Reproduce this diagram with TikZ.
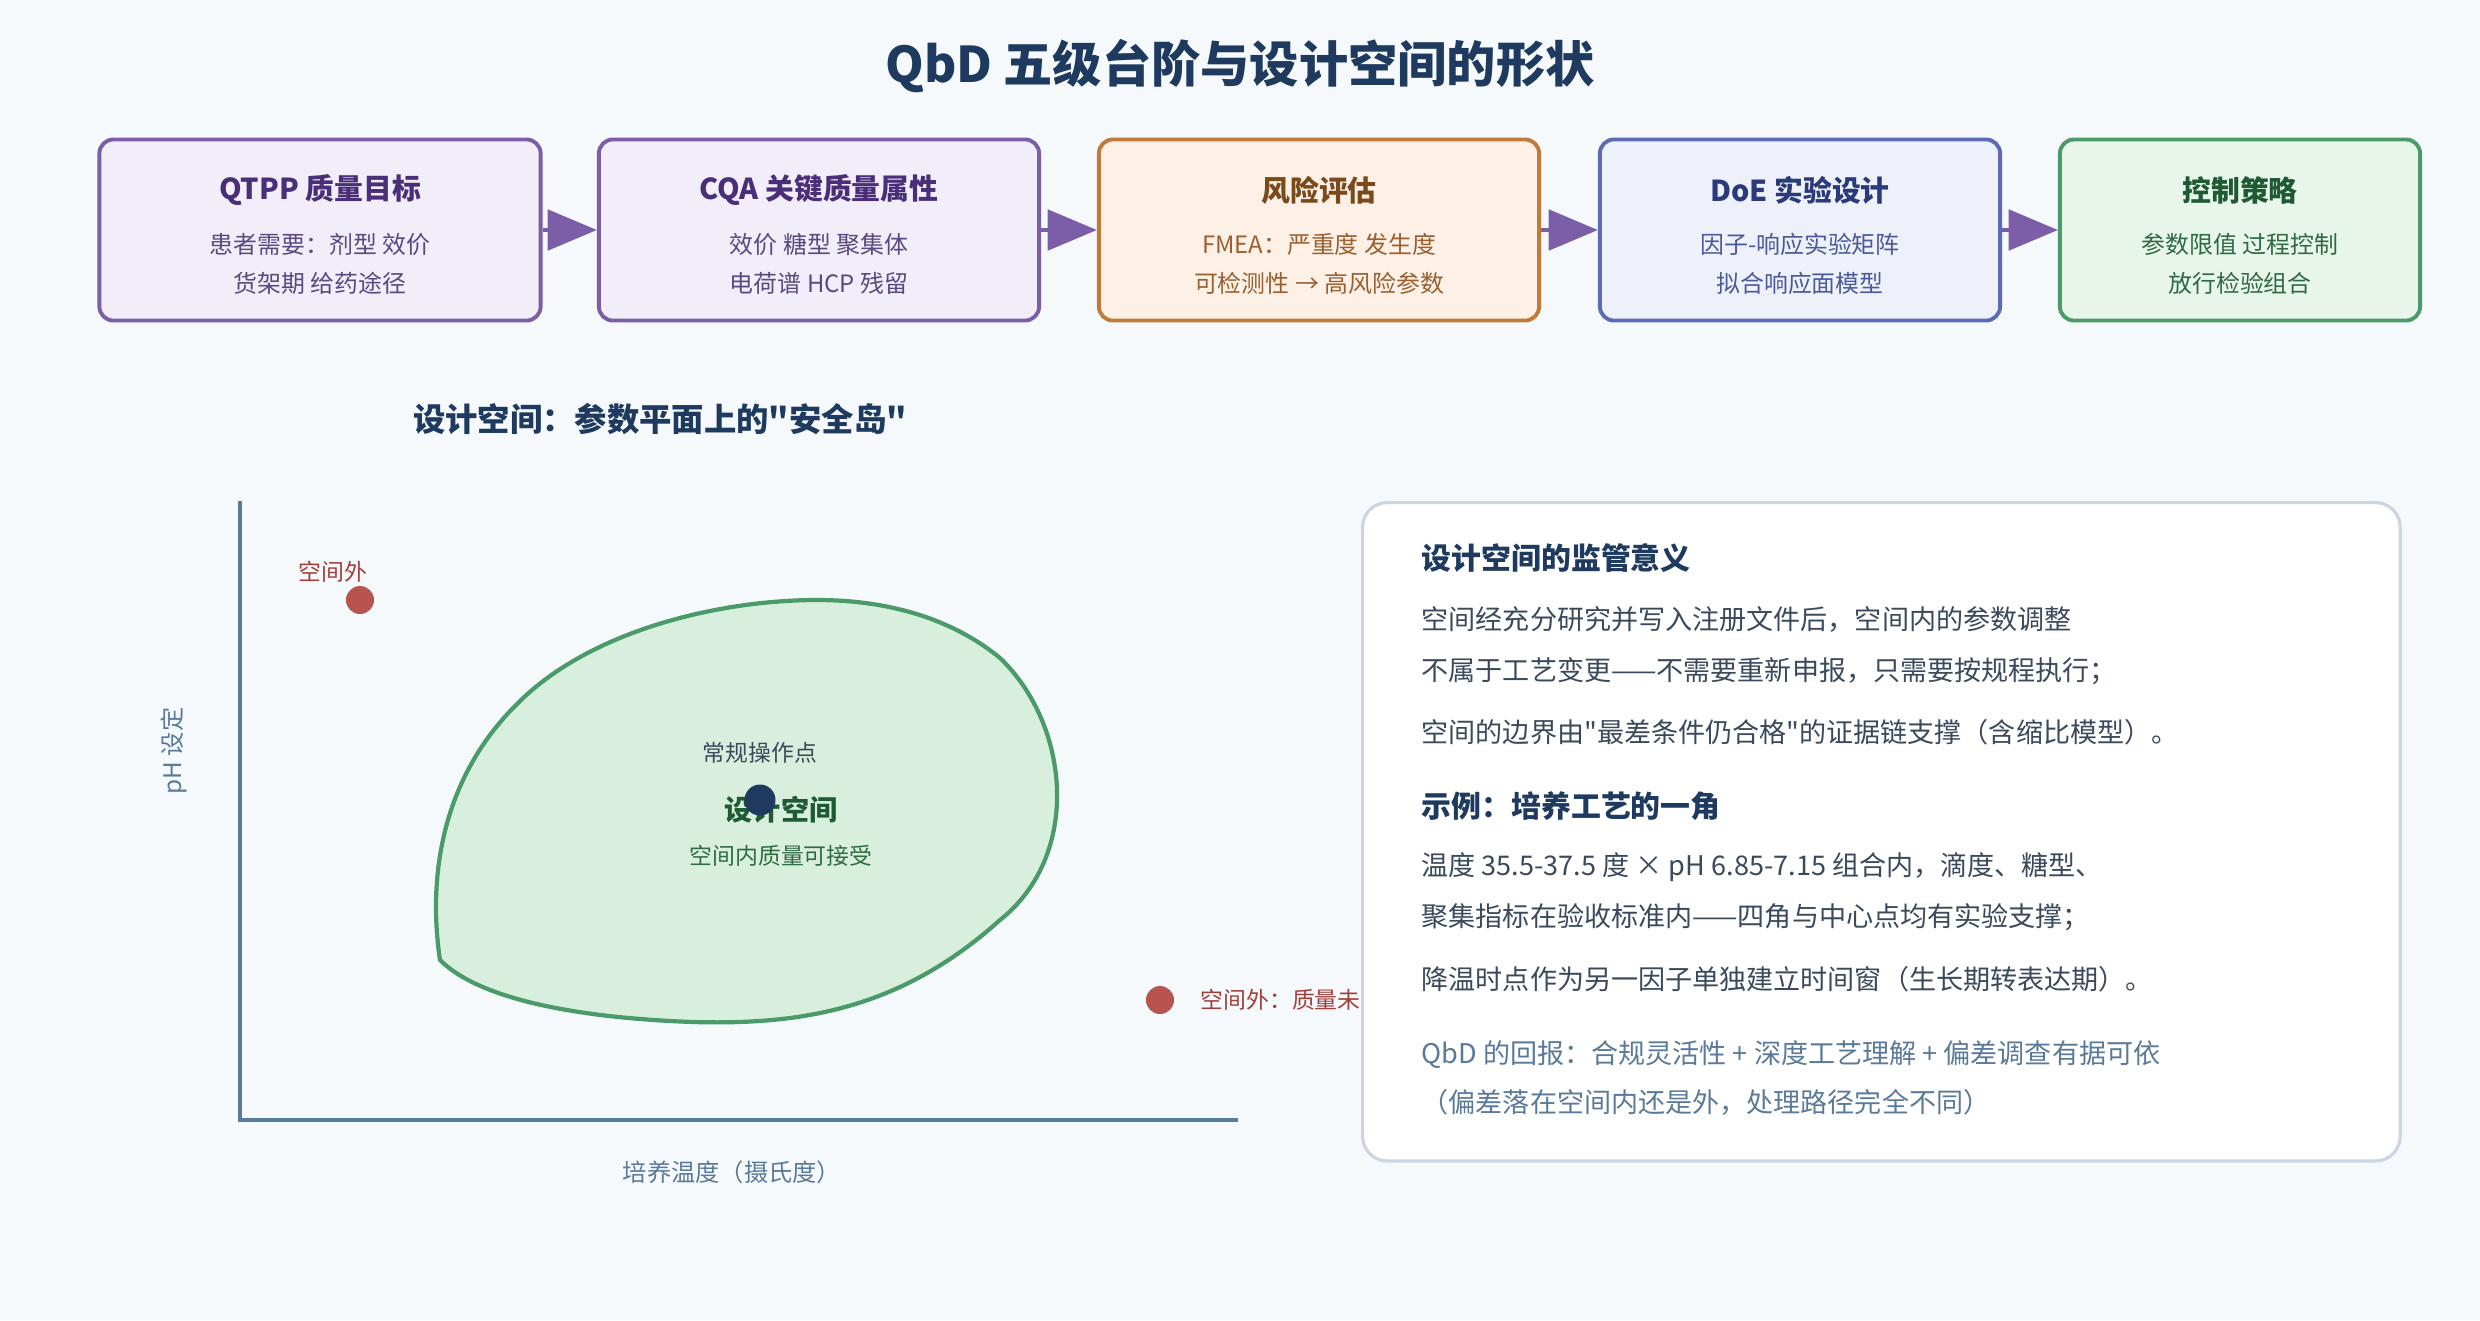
\documentclass[tikz,border=0pt]{standalone}
\usepackage{fontspec}
\setmainfont{Noto Sans CJK SC}[Ligatures=TeXOff]
\usetikzlibrary{arrows.meta, positioning}

\definecolor{bgpaper}{HTML}{F6F9FC}
\definecolor{navy}{HTML}{1E3A5F}
\definecolor{slate}{HTML}{5A7A9A}
\definecolor{inktext}{HTML}{3A4A5C}
\definecolor{purpleline}{HTML}{7B5EA7}
\definecolor{purplefill}{HTML}{F1EDF9}
\definecolor{purpletext}{HTML}{4A2F78}
\definecolor{purplebody}{HTML}{5B4A80}
\definecolor{orangeline}{HTML}{C07A3A}
\definecolor{orangefill}{HTML}{FDF0E6}
\definecolor{orangetext}{HTML}{7A4A1A}
\definecolor{orangebody}{HTML}{9A6030}
\definecolor{blueline}{HTML}{5C6BB5}
\definecolor{bluefill}{HTML}{EEF0FA}
\definecolor{bluetext}{HTML}{2A3A7A}
\definecolor{bluebody}{HTML}{4A5A9A}
\definecolor{greenline}{HTML}{4A9A6A}
\definecolor{greenfill}{HTML}{E8F5EA}
\definecolor{greentext}{HTML}{1E5A34}
\definecolor{greenbody}{HTML}{2E6A44}
\definecolor{islandfill}{HTML}{D9EFDD}
\definecolor{outred}{HTML}{B85450}
\definecolor{outtext}{HTML}{A0403A}
\definecolor{panelline}{HTML}{CBD6E2}

\tikzset{
	stepbox/.style={draw, line width=1.1pt, rounded corners=4pt, minimum height=1.81cm, inner sep=0pt},
	purplebox/.style={stepbox, draw=purpleline, fill=purplefill},
	orangebox/.style={stepbox, draw=orangeline, fill=orangefill},
	bluebox/.style={stepbox, draw=blueline, fill=bluefill},
	greenbox/.style={stepbox, draw=greenline, fill=greenfill},
	boxtitle/.style={font=\fontsize{8.2}{10}\selectfont\bfseries},
	boxbody/.style={font=\fontsize{6.8}{8}\selectfont},
	flowarrow/.style={draw=purpleline, line width=1.4pt, -{Triangle[length=14pt, width=11.4pt]}}
}
\tikzset{
	notehead/.style={anchor=west, inner sep=0pt, font=\fontsize{8.5}{10}\selectfont\bfseries, text=navy},
	notebody/.style={anchor=west, inner sep=0pt, font=\fontsize{7.7}{9}\selectfont, text=inktext},
	smalllabel/.style={font=\fontsize{6.5}{8}\selectfont},
	outdot/.style={circle, fill=outred, minimum size=0.28cm, inner sep=0pt}
}

\begin{document}
\begin{tikzpicture}[x=0.01cm, y=-0.01cm]
	\fill[bgpaper] (0,0) rectangle (2480,1320);
	\node[font=\fontsize{14}{17}\selectfont\bfseries, text=navy] (title) at (1240,66) {QbD 五级台阶与设计空间的形状};

	% five steps
	\node[purplebox, minimum width=4.41cm] (qtpp) at (320,230) {};
	\node[purplebox, minimum width=4.40cm] (cqa) at (819,230) {};
	\node[orangebox, minimum width=4.40cm] (risk) at (1319,230) {};
	\node[bluebox, minimum width=4.00cm] (doe) at (1800,230) {};
	\node[greenbox, minimum width=3.60cm] (ctrl) at (2240,230) {};

	\node[boxtitle, text=purpletext] (qtppT) at ([yshift=0.4cm]qtpp.center) {QTPP 质量目标};
	\node[boxbody, text=purplebody] (qtppA) at ([yshift=-0.145cm]qtpp.center) {患者需要：剂型 效价};
	\node[boxbody, text=purplebody] (qtppB) at ([yshift=-0.535cm]qtpp.center) {货架期 给药途径};

	\node[boxtitle, text=purpletext] (cqaT) at ([yshift=0.4cm]cqa.center) {CQA 关键质量属性};
	\node[boxbody, text=purplebody] (cqaA) at ([yshift=-0.145cm]cqa.center) {效价 糖型 聚集体};
	\node[boxbody, text=purplebody] (cqaB) at ([yshift=-0.535cm]cqa.center) {电荷谱 HCP 残留};

	\node[boxtitle, text=orangetext] (riskT) at ([yshift=0.4cm]risk.center) {风险评估};
	\node[boxbody, text=orangebody] (riskA) at ([yshift=-0.145cm]risk.center) {FMEA：严重度 发生度};
	\node[boxbody, text=orangebody] (riskB) at ([yshift=-0.535cm]risk.center) {可检测性 → 高风险参数};

	\node[boxtitle, text=bluetext] (doeT) at ([yshift=0.4cm]doe.center) {DoE 实验设计};
	\node[boxbody, text=bluebody] (doeA) at ([yshift=-0.145cm]doe.center) {因子-响应实验矩阵};
	\node[boxbody, text=bluebody] (doeB) at ([yshift=-0.535cm]doe.center) {拟合响应面模型};

	\node[boxtitle, text=greentext] (ctrlT) at ([yshift=0.4cm]ctrl.center) {控制策略};
	\node[boxbody, text=greenbody] (ctrlA) at ([yshift=-0.145cm]ctrl.center) {参数限值 过程控制};
	\node[boxbody, text=greenbody] (ctrlB) at ([yshift=-0.535cm]ctrl.center) {放行检验组合};

	\draw[flowarrow] (qtpp.east) -- (cqa.west);
	\draw[flowarrow] (cqa.east) -- (risk.west);
	\draw[flowarrow] (risk.east) -- (doe.west);
	\draw[flowarrow] (doe.east) -- (ctrl.west);

	% design space plane
	\node[font=\fontsize{9.2}{11}\selectfont\bfseries, text=navy] (planeT) at (660,419) {设计空间：参数平面上的"安全岛"};
	\coordinate (ytop) at (240,501);
	\coordinate (origin) at (240,1120);
	\coordinate (xend) at (1238,1120);
	\draw[slate, line width=0.9pt] (ytop) -- (origin) -- (xend);
	\node[font=\fontsize{6.9}{8}\selectfont, text=slate] (xlab) at (732,1172) {培养温度（摄氏度）};
	\node[font=\fontsize{6.9}{8}\selectfont, text=slate, rotate=90] (ylab) at (174,751) {pH 设定};

	\draw[draw=greenline, fill=islandfill, line width=1.2pt]
		(440,960) .. controls (428,880) and (440,780) .. (517,704)
		.. controls (590,630) and (720,600) .. (817,600)
		.. controls (900,600) and (960,625) .. (1000,658)
		.. controls (1070,725) and (1082,855) .. (1000,920)
		.. controls (900,1010) and (800,1025) .. (693,1022)
		.. controls (580,1018) and (480,1000) .. (440,960) -- cycle;

	\node[smalllabel, text=inktext] (opT) at (760,753) {常规操作点};
	\node[font=\fontsize{8}{10}\selectfont\bfseries, text=greentext] (dsT) at (781,810) {设计空间};
	\node[smalllabel, text=greenbody] (dsA) at (781,856) {空间内质量可接受};
	\node[circle, fill=navy, minimum size=0.31cm, inner sep=0pt] (op) at (760,800) {};

	\node[outdot] (outA) at (360,600) {};
	\node[smalllabel, text=outtext] (outAT) at (333,572) {空间外};
	\node[outdot] (outB) at (1160,1000) {};
	\node[smalllabel, text=outtext, anchor=west, inner sep=0pt] (outBT) at (1200,1000) {空间外：质量未};

	% regulatory note
	\node[draw=panelline, fill=white, line width=0.9pt, rounded corners=7pt, anchor=north west,
		minimum width=10.37cm, minimum height=6.58cm] (note) at (1361,501) {};
	\node[notehead] (n1) at (1421,558) {设计空间的监管意义};
	\node[notebody] (n2) at (1421,619) {空间经充分研究并写入注册文件后，空间内的参数调整};
	\node[notebody] (n3) at (1421,671) {不属于工艺变更——不需要重新申报，只需要按规程执行；};
	\node[notebody] (n4) at (1421,732) {空间的边界由"最差条件仍合格"的证据链支撑（含缩比模型）。};
	\node[notehead] (n5) at (1421,806) {示例：培养工艺的一角};
	\node[notebody] (n6) at (1421,867) {温度 35.5-37.5 度 × pH 6.85-7.15 组合内，滴度、糖型、};
	\node[notebody] (n7) at (1421,917) {聚集指标在验收标准内——四角与中心点均有实验支撑；};
	\node[notebody] (n8) at (1421,979) {降温时点作为另一因子单独建立时间窗（生长期转表达期）。};
	\node[notebody, text=slate] (n9) at (1421,1055) {QbD 的回报：合规灵活性 + 深度工艺理解 + 偏差调查有据可依};
	\node[notebody, text=slate] (n10) at (1421,1102) {（偏差落在空间内还是外，处理路径完全不同）};
\end{tikzpicture}
\end{document}
